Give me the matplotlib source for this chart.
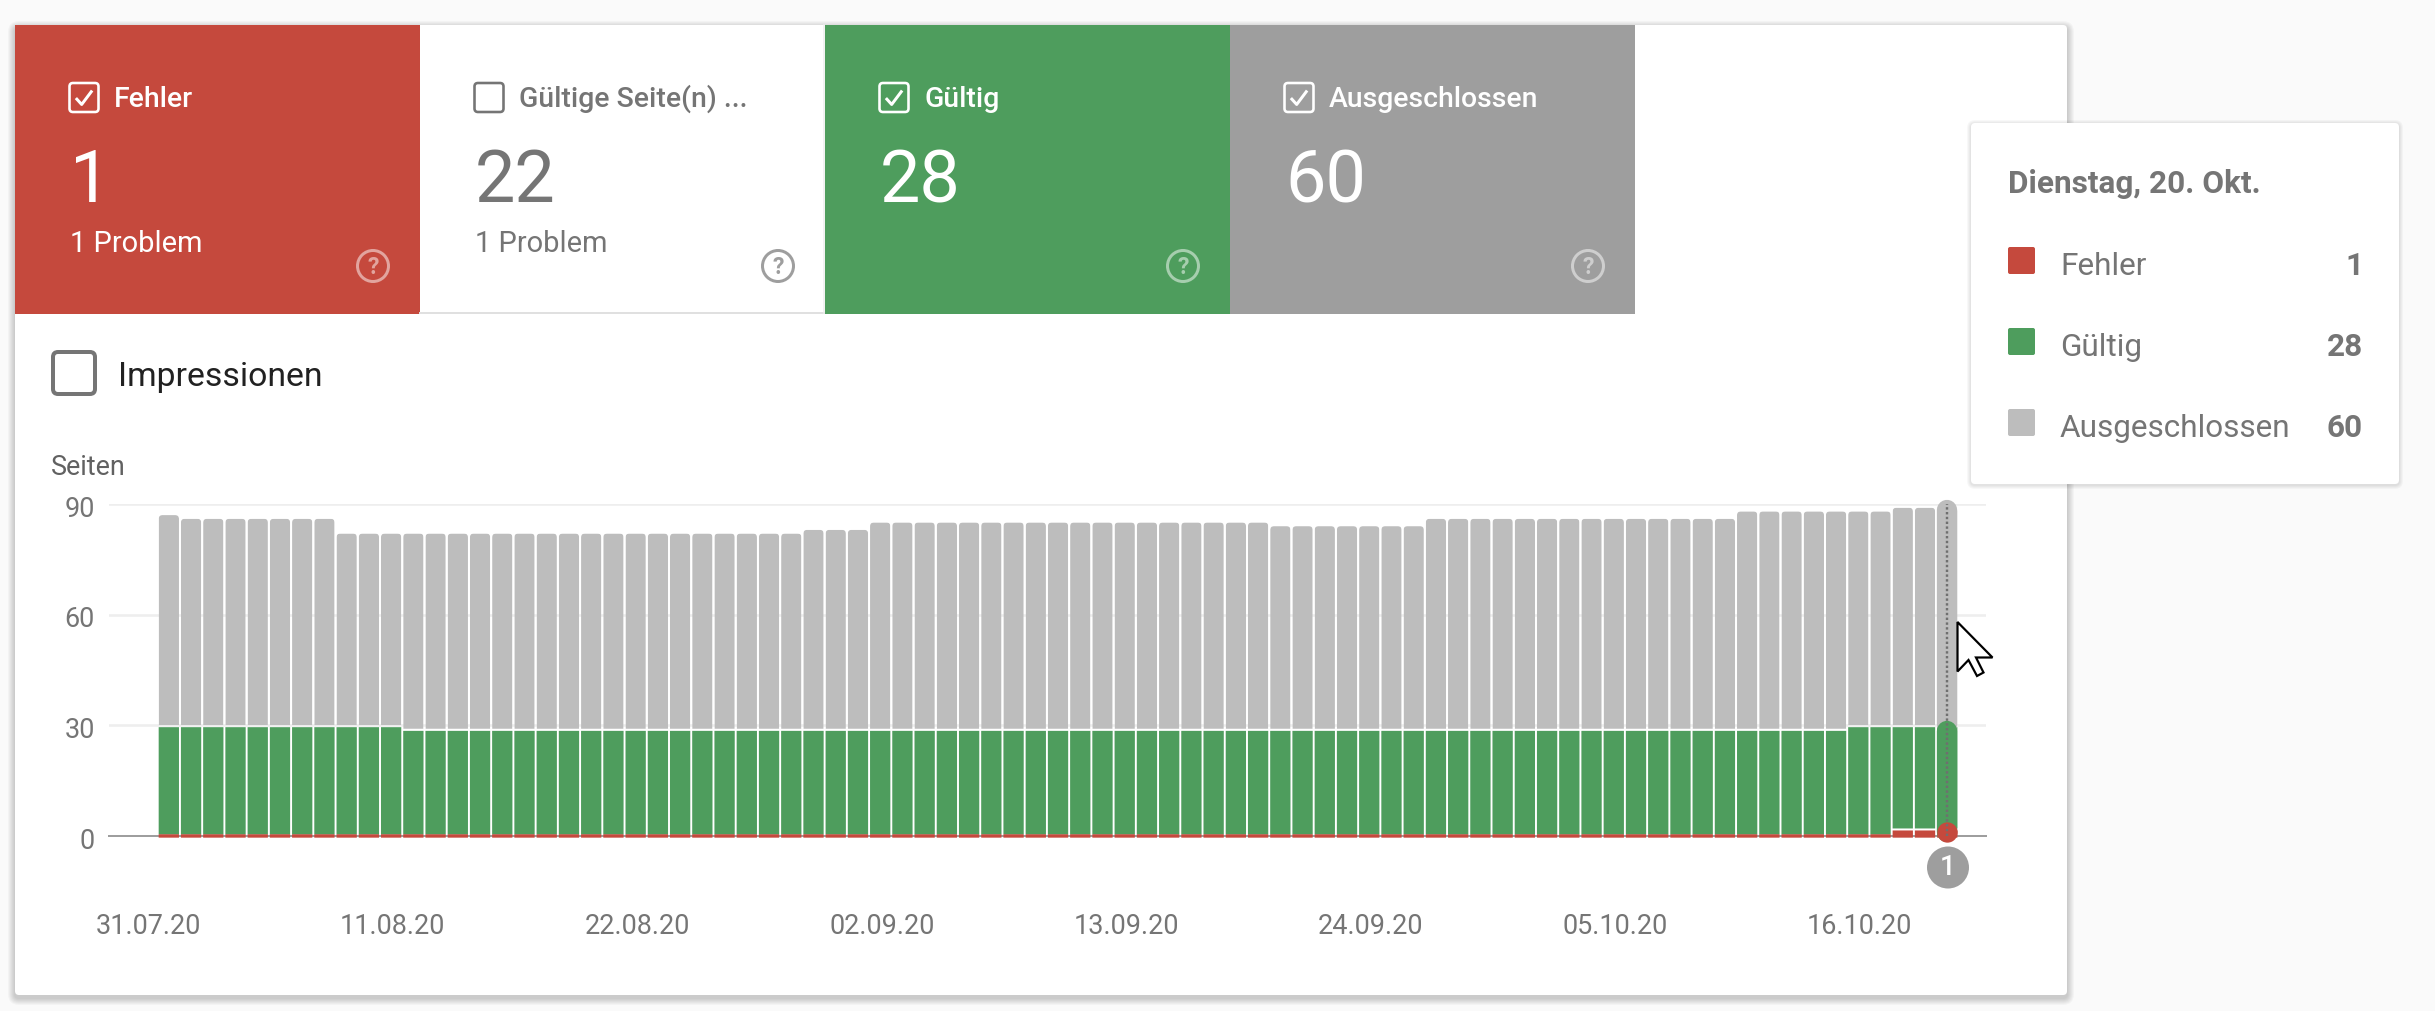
"""Search Console coverage card: status tiles, stacked daily bars and hover tooltip."""

import numpy as np
import matplotlib
matplotlib.use("Agg")
import matplotlib.pyplot as plt
from matplotlib.patches import Circle, FancyBboxPatch, Polygon, Rectangle
from matplotlib.path import Path
from matplotlib.transforms import ScaledTranslation

WIDTH, HEIGHT = 2435, 1012
plt.rcParams["font.family"] = ["Roboto", "DejaVu Sans"]

RED = "#c5493d"
GREEN = "#4e9d5d"
GREY_TILE = "#9e9e9e"
GREY_BAR = "#bdbdbd"
TEXT_GREY = "#757575"

# tiles
tile_names = ["Fehler", "Gültige Seite(n) ...", "Gültig", "Ausgeschlossen"]
tile_counts = ["1", "22", "28", "60"]
tile_notes = ["1 Problem", "1 Problem", "", ""]
tile_colors = [RED, "#ffffff", GREEN, GREY_TILE]
tile_checked = [True, False, True, True]

# tooltip
tooltip_title = "Dienstag, 20. Okt."
tooltip_names = ["Fehler", "Gültig", "Ausgeschlossen"]
tooltip_values = ["1", "28", "60"]
tooltip_colors = [RED, GREEN, GREY_BAR]

# bars: one per day, day 0 is 31.07.20 and has no bar
days = list(range(1, 82))
fehler = [0] * 78 + [1, 1, 1]
gueltig = [
    29, 29, 29, 29, 29, 29, 29, 29, 29, 29, 29, 28, 28, 28, 28, 28, 28, 28, 28, 28,
    28, 28, 28, 28, 28, 28, 28, 28, 28, 28, 28, 28, 28, 28, 28, 28, 28, 28, 28, 28,
    28, 28, 28, 28, 28, 28, 28, 28, 28, 28, 28, 28, 28, 28, 28, 28, 28, 28, 28, 28,
    28, 28, 28, 28, 28, 28, 28, 28, 28, 28, 28, 28, 28, 28, 28, 28, 29, 29, 28, 28,
    28,
]
gesamt = [
    87, 86, 86, 86, 86, 86, 86, 86, 82, 82, 82, 82, 82, 82, 82, 82, 82, 82, 82, 82,
    82, 82, 82, 82, 82, 82, 82, 82, 82, 83, 83, 83, 85, 85, 85, 85, 85, 85, 85, 85,
    85, 85, 85, 85, 85, 85, 85, 85, 85, 85, 84, 84, 84, 84, 84, 84, 84, 86, 86, 86,
    86, 86, 86, 86, 86, 86, 86, 86, 86, 86, 86, 88, 88, 88, 88, 88, 88, 88, 89, 89,
    89,
]
y_ticks = [0, 30, 60, 90]
x_ticks = [0, 11, 22, 33, 44, 55, 66, 77]
x_labels = ["31.07.20", "11.08.20", "22.08.20", "02.09.20",
            "13.09.20", "24.09.20", "05.10.20", "16.10.20"]

# pixel box of the plot, grid lines reach its left and right edge
PLOT_L, PLOT_R, PLOT_T, PLOT_B = 109, 1986, 505, 837
DAY_PX = 22.23
FIRST_TICK_PX = 146.6
UNIT_PX = (PLOT_B - PLOT_T) / 90


def pt(px):
    return px * 0.72


def rounded_rect(ax, x, y, w, h, radius, **kw):
    patch = FancyBboxPatch((x, y), w, h, boxstyle=f"round,pad=0,rounding_size={radius}", **kw)
    ax.add_patch(patch)
    return patch


def shadow(ax, x, y, w, h, layers, alpha, dy):
    for k in range(layers, 0, -1):
        rounded_rect(ax, x - k, y - k + dy, w + 2 * k, h + 2 * k, 4 + k,
                     facecolor="black", edgecolor="none", alpha=alpha)


def checkbox(ax, x, y, size, color, lw, checked):
    rounded_rect(ax, x, y, size, size, size * 0.12, facecolor="none", edgecolor=color, linewidth=pt(lw))
    if checked:
        ax.plot([x + size * 0.22, x + size * 0.42, x + size * 0.78],
                [y + size * 0.52, y + size * 0.74, y + size * 0.26],
                color=color, linewidth=pt(lw + 0.4), solid_capstyle="butt")


def help_icon(ax, x, y, color, alpha):
    ax.add_patch(Circle((x, y), 15.5, facecolor="none", edgecolor=color, linewidth=pt(3), alpha=alpha))
    ax.text(x, y + 0.5, "?", color=color, alpha=alpha, fontsize=pt(23), fontweight="bold",
            ha="center", va="center")


def top_rounded_path(x0, x1, y0, y1, rx, ry):
    verts = [(x0, y0), (x0, y1 - ry), (x0, y1), (x0 + rx, y1), (x1 - rx, y1), (x1, y1),
             (x1, y1 - ry), (x1, y0), (x0, y0)]
    codes = [Path.MOVETO, Path.LINETO, Path.CURVE3, Path.CURVE3, Path.LINETO, Path.CURVE3,
             Path.CURVE3, Path.LINETO, Path.CLOSEPOLY]
    return Path(verts, codes)


fig = plt.figure(figsize=(WIDTH / 100, HEIGHT / 100), dpi=100, facecolor="#fafafa")

# background layer in pixel coordinates
bg = fig.add_axes([0, 0, 1, 1], zorder=0)
bg.set_xlim(0, WIDTH)
bg.set_ylim(HEIGHT, 0)
bg.axis("off")

shadow(bg, 15, 26, 2052, 970, 7, 0.028, 3)
rounded_rect(bg, 15, 26, 2052, 970, 4, facecolor="white", edgecolor="none")

TILE_W = 405
for i, name in enumerate(tile_names):
    left = 15 + i * TILE_W
    is_plain = tile_colors[i] == "#ffffff"
    fg = TEXT_GREY if is_plain else "white"
    bg.add_patch(Rectangle((left, 26), TILE_W, 289, facecolor=tile_colors[i], edgecolor="none"))
    if is_plain:
        bg.plot([left, left + TILE_W - 1], [314, 314], color="#e0e0e0", linewidth=pt(2))
        bg.plot([left + TILE_W - 1, left + TILE_W - 1], [26, 314], color="#eeeeee", linewidth=pt(1.5))
    checkbox(bg, left + 54.5, 84, 29, fg, 2.6, tile_checked[i])
    bg.text(left + 99, 107, name, color=fg, fontsize=pt(28.4), fontweight="medium", va="baseline")
    bg.text(left + 55, 202, tile_counts[i], color=fg, fontsize=pt(72), va="baseline")
    if tile_notes[i]:
        bg.text(left + 55, 252, tile_notes[i], color=fg, fontsize=pt(29), va="baseline")
    help_icon(bg, left + 358, 267, "#9e9e9e" if is_plain else "white", 1 if is_plain else 0.5)

checkbox(bg, 53, 353, 42, TEXT_GREY, 4, False)
bg.text(118, 386, "Impressionen", color="#212121", fontsize=pt(33.8), va="baseline")
bg.text(51, 475, "Seiten", color="#616161", fontsize=pt(27), va="baseline")

# chart
ax = fig.add_axes([PLOT_L / WIDTH, 1 - PLOT_B / HEIGHT,
                   (PLOT_R - PLOT_L) / WIDTH, (PLOT_B - PLOT_T) / HEIGHT], zorder=1)
ax.patch.set_alpha(0)
ax.set_xlim((PLOT_L - FIRST_TICK_PX) / DAY_PX, (PLOT_R - FIRST_TICK_PX) / DAY_PX)
ax.set_ylim(0, 90)
for spine in ax.spines.values():
    spine.set_visible(False)

x = np.array(days)
f = np.array(fehler)
g = np.array(gueltig)
t = np.array(gesamt)
bar_w = 20.3 / DAY_PX
gap = 2 / UNIT_PX
base = 0.5  # a zero count still shows a thin red strip on the axis
strip_below = 0.45
cap_inset = 0.6

ax.set_axisbelow(True)
ax.yaxis.grid(True, color="#eeeeee", linewidth=pt(2.6))
ax.xaxis.grid(False)
ax.axhline(0, color="#9e9e9e", linewidth=pt(2), zorder=1, clip_on=False)

green_top = f + g + base
green_bottom = f + base + np.where(f > 0, gap, 0)
grey_bottom = green_top + gap

ax.bar(x, f + base + strip_below, bottom=-strip_below, width=bar_w, color=RED, linewidth=0, zorder=2,
       clip_on=False, snap=False)
ax.bar(x, green_top - green_bottom, bottom=green_bottom, width=bar_w, color=GREEN, linewidth=0, zorder=3, snap=False)
grey_bars = ax.bar(x, t - grey_bottom, bottom=grey_bottom, width=bar_w, color=GREY_BAR, linewidth=0, zorder=3, snap=False)
for day, rect, low, high in zip(x, grey_bars, grey_bottom, t):
    clip = top_rounded_path(day - bar_w / 2, day + bar_w / 2, low, high, 4 / DAY_PX, 4 / UNIT_PX)
    rect.set_clip_path(clip, ax.transData)

# hovered day: pills, dot and dotted guide
hover = len(days) - 1
bar_pt = pt(20.3)
ax.plot([x[hover]] * 2, [grey_bottom[hover], t[hover] - cap_inset], color=GREY_BAR, linewidth=bar_pt,
        solid_capstyle="round", zorder=4, clip_on=False)
ax.plot([x[hover]] * 2, [f[hover], f[hover] + g[hover] - cap_inset], color=GREEN, linewidth=bar_pt,
        solid_capstyle="round", zorder=5, clip_on=False)
ax.scatter([x[hover]], [f[hover]], s=bar_pt ** 2, color=RED, linewidth=0, zorder=6, clip_on=False)
ax.plot([x[hover]] * 2, [0, 90], color="#6f6f6f", linewidth=pt(2.4), linestyle=(0, (1, 1)), zorder=7)

ax.set_yticks(y_ticks)
ax.set_xticks(x_ticks)
ax.set_xticklabels(x_labels)
ax.tick_params(axis="both", length=0, labelcolor=TEXT_GREY, labelsize=pt(27))
ax.tick_params(axis="y", pad=pt(14))
ax.tick_params(axis="x", pad=pt(76))
for label in ax.get_xticklabels():
    label.set_transform(label.get_transform() + ScaledTranslation(0.015, 0, fig.dpi_scale_trans))
for label in ax.get_yticklabels():
    label.set_transform(label.get_transform() + ScaledTranslation(0, -0.012, fig.dpi_scale_trans))

# overlay: annotation badge, cursor, tooltip
top = fig.add_axes([0, 0, 1, 1], zorder=2)
top.set_xlim(0, WIDTH)
top.set_ylim(HEIGHT, 0)
top.axis("off")
top.patch.set_alpha(0)

top.add_patch(Circle((1948, 868.5), 21, facecolor=GREY_TILE, edgecolor="none"))
top.text(1948, 868, tile_counts[0], color="white", fontsize=pt(28), fontweight="medium", ha="center", va="center")

cursor_px = [(1957.5, 623), (1957.5, 672.5), (1968.5, 661), (1977, 677), (1983.5, 673.5), (1976, 658.5), (1992.5, 658.5)]
top.add_patch(Polygon(cursor_px, closed=True, facecolor="white", edgecolor="black",
                      linewidth=pt(2.2), joinstyle="miter"))

shadow(top, 1971, 124, 428, 361, 4, 0.028, 1)
rounded_rect(top, 1971, 124, 428, 361, 4, facecolor="white", edgecolor="none")
top.text(2008, 193, tooltip_title, color=TEXT_GREY, fontsize=pt(31.5), fontweight="bold", va="baseline")
for i, name in enumerate(tooltip_names):
    base_y = 275 + i * 81
    rounded_rect(top, 2008, base_y - 27, 27, 27, 2, facecolor=tooltip_colors[i], edgecolor="none")
    top.text(2060, base_y + 0, name, color=TEXT_GREY, fontsize=pt(31.5), va="baseline")
    top.text(2363, base_y + 0, tooltip_values[i], color=TEXT_GREY, fontsize=pt(31.5), fontweight="bold",
             ha="right", va="baseline")

fig.savefig("out.png", dpi=100, facecolor=fig.get_facecolor())
